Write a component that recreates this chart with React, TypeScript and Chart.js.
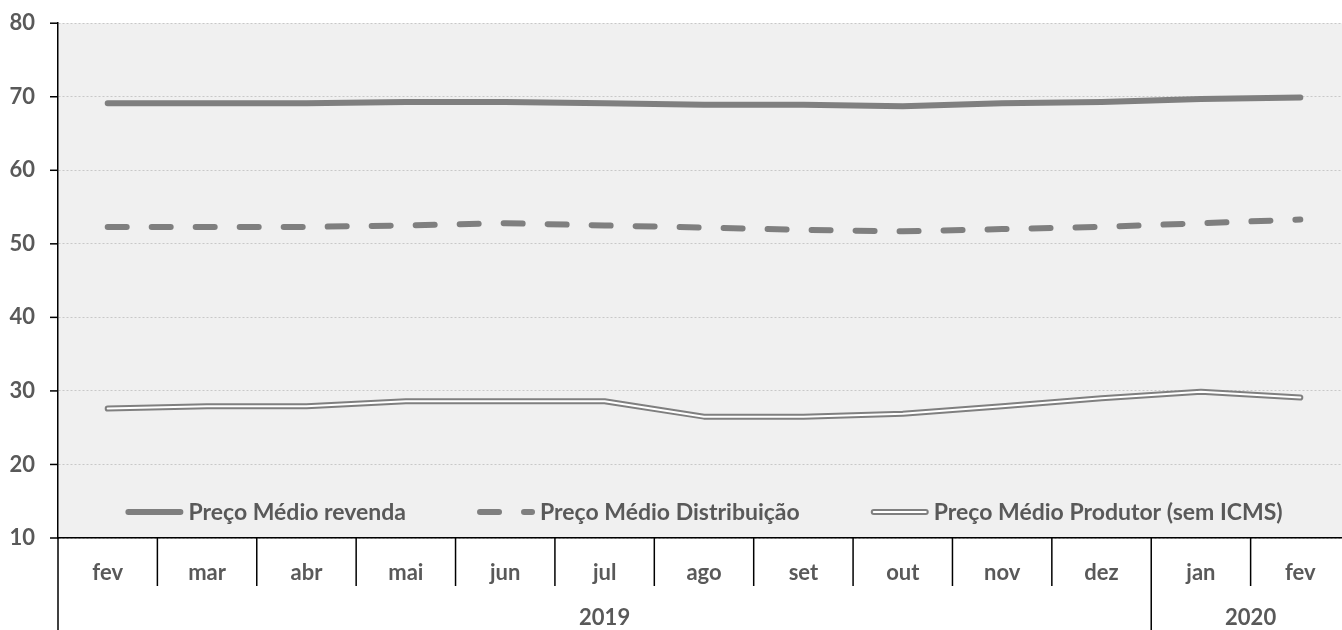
import React, { useEffect, useRef } from 'react';
import { Chart, registerables } from 'chart.js';

Chart.register(...registerables);

const months = ['fev', 'mar', 'abr', 'mai', 'jun', 'jul', 'ago', 'set', 'out', 'nov', 'dez', 'jan', 'fev'];
const yearLabels = ['2019', '2020'];
const yearSpans = [11, 2];

const seriesNames = ['Preço Médio revenda', 'Preço Médio Distribuição', 'Preço Médio Produtor (sem ICMS)'];
const revenda = [69.1, 69.1, 69.1, 69.3, 69.3, 69.1, 68.9, 68.9, 68.7, 69.1, 69.3, 69.7, 69.9];
const distribuicao = [52.3, 52.3, 52.3, 52.5, 52.8, 52.5, 52.2, 51.9, 51.7, 52.0, 52.3, 52.8, 53.3];
const produtor = [27.6, 27.9, 27.9, 28.6, 28.6, 28.6, 26.5, 26.5, 26.9, 27.9, 29.0, 29.9, 29.1];

const yMin = 10;
const yMax = 80;
const yStep = 10;

const FONT = 'Lato, "Open Sans", sans-serif';
const FONT_SIZE = 22;
const LEGEND_SIZE = 23;
const TEXT = '#595959';
const LINE = '#7f7f7f';
const DASH = [19, 25];

const decorPlugin = {
  id: 'decor',
  beforeDraw(chart: any) {
    const { ctx, chartArea: a } = chart;
    ctx.save();
    ctx.fillStyle = '#f0f0f0';
    ctx.fillRect(a.left, a.top, a.right - a.left, a.bottom - a.top);
    ctx.restore();
  },
  afterDraw(chart: any) {
    const { ctx, chartArea: a, scales } = chart;
    const xs = scales.x;
    const ys = scales.y;
    const H = chart.height;
    ctx.save();
    ctx.strokeStyle = '#000';
    ctx.lineWidth = 1.5;
    // y tick marks
    ys.ticks.forEach((t: any) => {
      const py = ys.getPixelForValue(t.value);
      ctx.beginPath();
      ctx.moveTo(a.left - 8, py);
      ctx.lineTo(a.left, py);
      ctx.stroke();
    });
    // category boundaries
    const n = months.length;
    const half = (xs.getPixelForValue(1) - xs.getPixelForValue(0)) / 2;
    const yearBounds = new Set<number>([0]);
    let acc = 0;
    yearSpans.forEach((s) => { acc += s; yearBounds.add(acc); });
    for (let b = 0; b <= n; b++) {
      const bx = b < n ? xs.getPixelForValue(b) - half : xs.getPixelForValue(n - 1) + half;
      ctx.beginPath();
      ctx.moveTo(bx, a.bottom);
      ctx.lineTo(bx, yearBounds.has(b) ? H : a.bottom + 48);
      ctx.stroke();
    }
    // year labels
    ctx.fillStyle = TEXT;
    ctx.font = `bold ${FONT_SIZE}px ${FONT}`;
    ctx.textAlign = 'center';
    ctx.textBaseline = 'middle';
    let start = 0;
    yearLabels.forEach((lab, i) => {
      const endIdx = start + yearSpans[i] - 1;
      const cx = (xs.getPixelForValue(start) + xs.getPixelForValue(endIdx)) / 2;
      ctx.fillText(lab, cx, a.bottom + 80);
      start += yearSpans[i];
    });
    // legend
    ctx.font = `bold ${LEGEND_SIZE}px ${FONT}`;
    const sampleW = 58;
    const gap = 5;
    const spacing = 71;
    const widths = seriesNames.map((s) => ctx.measureText(s).width);
    const total = widths.reduce((p, c) => p + c, 0) + seriesNames.length * (sampleW + gap) + spacing * (seriesNames.length - 1);
    let lx = (a.left + a.right) / 2 - total / 2;
    const ly = a.bottom - 26;
    ctx.textAlign = 'left';
    seriesNames.forEach((name, i) => {
      ctx.save();
      ctx.lineCap = 'round';
      ctx.strokeStyle = LINE;
      ctx.lineWidth = 6;
      if (i === 1) ctx.setLineDash(DASH);
      ctx.beginPath();
      ctx.moveTo(lx + 3, ly);
      ctx.lineTo(lx + sampleW - 3, ly);
      ctx.stroke();
      if (i === 2) {
        ctx.strokeStyle = '#ffffff';
        ctx.lineWidth = 2;
        ctx.beginPath();
        ctx.moveTo(lx + 3, ly);
        ctx.lineTo(lx + sampleW - 3, ly);
        ctx.stroke();
      }
      ctx.restore();
      ctx.fillStyle = TEXT;
      ctx.fillText(name, lx + sampleW + gap, ly + 1);
      lx += sampleW + gap + widths[i] + spacing;
    });
    ctx.restore();
  },
};

export default function App() {
  const ref = useRef<HTMLCanvasElement | null>(null);
  useEffect(() => {
    if (!ref.current) return;
    const font = { family: FONT, size: FONT_SIZE, weight: 'bold' as const };
    const chart = new Chart(ref.current, {
      type: 'line',
      data: {
        labels: months,
        datasets: [
          {
            label: seriesNames[0], data: revenda, borderColor: LINE, borderWidth: 6,
            borderCapStyle: 'round', borderJoinStyle: 'round', pointRadius: 0, tension: 0, order: 2,
          },
          {
            label: seriesNames[1], data: distribuicao, borderColor: LINE, borderWidth: 6, borderDash: DASH,
            borderCapStyle: 'round', borderJoinStyle: 'round', pointRadius: 0, tension: 0, order: 2,
          },
          {
            label: seriesNames[2], data: produtor, borderColor: LINE, borderWidth: 6,
            borderCapStyle: 'round', borderJoinStyle: 'round', pointRadius: 0, tension: 0, order: 2,
          },
          {
            label: seriesNames[2] + ' (inner)', data: produtor, borderColor: '#ffffff', borderWidth: 2,
            borderCapStyle: 'round', borderJoinStyle: 'round', pointRadius: 0, tension: 0, order: 1,
          },
        ],
      },
      options: {
        animation: false,
        responsive: true,
        maintainAspectRatio: false,
        layout: { padding: { left: 0, right: 10, top: 10, bottom: 0 } },
        plugins: { legend: { display: false }, tooltip: { enabled: false } },
        scales: {
          x: {
            type: 'category',
            offset: true,
            grid: { display: false, drawTicks: false },
            border: { display: true, color: '#000', width: 1.5 },
            ticks: { font, color: TEXT, padding: 22, maxRotation: 0, autoSkip: false },
            afterFit: (s: any) => { s.height = 92; },
          },
          y: {
            min: yMin,
            max: yMax,
            grid: { color: '#c8c8c8', lineWidth: 1, drawTicks: false },
            border: { display: true, color: '#000', width: 1.5, dash: [2, 2] },
            ticks: { stepSize: yStep, font, color: TEXT, padding: 23 },
            afterFit: (s: any) => { s.width = 58; },
          },
        },
      },
      plugins: [decorPlugin],
    });
    return () => chart.destroy();
  }, []);
  return (
    <div style={{ position: 'absolute', left: 0, top: 0, width: 1342, height: 630, overflow: 'hidden', background: '#fff' }}>
      <div style={{ position: 'absolute', left: 0, top: -13, width: 1360, height: 643 }}>
        <canvas ref={ref} />
      </div>
    </div>
  );
}
